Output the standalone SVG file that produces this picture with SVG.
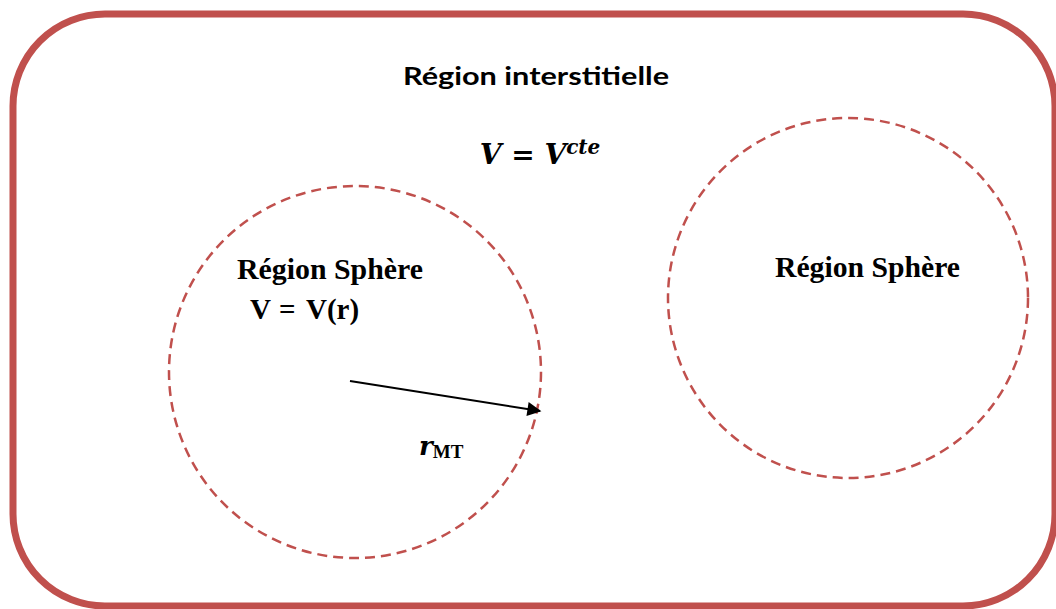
<svg xmlns="http://www.w3.org/2000/svg" width="1056" height="609" viewBox="0 0 1056 609">
<style>
.frame{fill:none;stroke:#c0504d;stroke-width:7}
.sph{fill:none;stroke:#c0504d;stroke-width:2.5;stroke-dasharray:10 6}
.title{font-family:Lato,"Open Sans","Liberation Sans",sans-serif;font-weight:bold;font-size:25px;fill:#000}
.math{font-family:"DejaVu Serif","Liberation Serif",serif;font-weight:bold;font-style:italic;fill:#000}
.lbl{font-family:"Liberation Serif",serif;font-weight:bold;font-size:29px;fill:#000}
</style>
<defs>
<marker id="ah" viewBox="0 0 10 10" refX="9" refY="5" markerWidth="16" markerHeight="14" orient="auto" markerUnits="userSpaceOnUse">
<path d="M0,0 L10,5 L0,10 z" fill="#000"/>
</marker>
</defs>
<g id="interstitial">
<rect class="frame" x="13" y="14" width="1042" height="592" rx="92" ry="92"/>
<text class="title" x="536" y="85" text-anchor="middle" textLength="266" lengthAdjust="spacingAndGlyphs">Région interstitielle</text>
<text class="math" x="540" y="164" text-anchor="middle" font-size="28">V = V<tspan font-size="20" dy="-10">cte</tspan></text>
</g>
<g id="sphere1">
<circle class="sph" cx="355" cy="372" r="186"/>
<text class="lbl" x="237" y="279" textLength="186" lengthAdjust="spacingAndGlyphs">Région Sphère</text>
<text class="lbl" x="250" y="319">V<tspan x="279">=</tspan><tspan x="306">V(r)</tspan></text>
<text class="math" x="419" y="455" font-size="26">r<tspan font-style="normal" font-family="Liberation Serif,serif" font-size="19" dy="3">MT</tspan></text>
</g>
<g id="sphere2">
<circle class="sph" cx="848" cy="298" r="180"/>
<text class="lbl" x="775" y="277" textLength="185" lengthAdjust="spacingAndGlyphs">Région Sphère</text>
</g>
<g id="connectors">
<line x1="350" y1="381" x2="540" y2="411" stroke="#000" stroke-width="2" marker-end="url(#ah)"/>
</g>
</svg>
